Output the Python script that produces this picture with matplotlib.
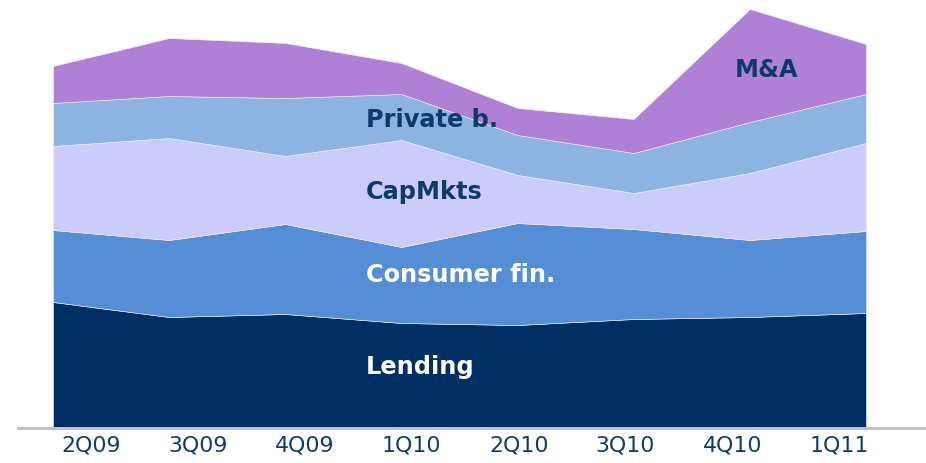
import matplotlib
matplotlib.use("Agg")
import matplotlib.pyplot as plt
import numpy as np
from matplotlib.lines import Line2D

quarters = ["2Q09", "3Q09", "4Q09", "1Q10", "2Q10", "3Q10", "4Q10", "1Q11"]
lending = [125, 110, 113, 104, 102, 108, 110, 114]
consumer_fin = [72, 77, 90, 76, 102, 90, 77, 82]
capmkts = [84, 102, 68, 107, 48, 36, 67, 88]
private_b = [43, 42, 58, 46, 40, 40, 51, 49]
m_and_a = [37, 58, 55, 31, 27, 34, 113, 50]

series_names = ["Lending", "Consumer fin.", "CapMkts", "Private b.", "M&A"]
colors = ["#003063", "#558ED5", "#CCCCFA", "#8DB3E2", "#B07FD6"]

W, H = 926, 463
fig = plt.figure(figsize=(W / 100, H / 100), dpi=100)
base_px = 427
ax = fig.add_axes([53 / W, (H - base_px) / H, (866 - 53) / W, base_px / H])

x = np.arange(len(quarters))
ax.stackplot(x, lending, consumer_fin, capmkts, private_b, m_and_a,
             colors=colors, linewidth=0.4, edgecolor="#F4F4FF")
ax.set_xlim(0, len(quarters) - 1)
ax.set_ylim(0, base_px)
for s in ax.spines.values():
    s.set_visible(False)
ax.set_yticks([])

# category labels are spread evenly across the category band (Excel-like)
tick_pos = np.linspace(0.328, 6.77, len(quarters))
ax.set_xticks(tick_pos)
ax.set_xticklabels(quarters, fontsize=15.8, color="#0B3A6B")
ax.tick_params(axis="x", length=0, pad=6)

fig.add_artist(Line2D([18 / W, 925 / W], [(H - 428) / H] * 2,
                      color="#BFBFBF", linewidth=2, transform=fig.transFigure))

tc = "#0B3A6B"
def lab(txt, px, py, color, ha="left"):
    fig.text(px / W, 1 - py / H, txt, fontsize=17.3, fontweight="bold",
             color=color, ha=ha, va="center")

lab("Private b.", 366, 120, tc)
lab("CapMkts", 366, 192, tc)
lab("Consumer fin.", 366, 275, "white")
lab("Lending", 366, 367, "white")
lab("M&A", 767, 70, tc, ha="center")

fig.savefig("out.png", dpi=100)
